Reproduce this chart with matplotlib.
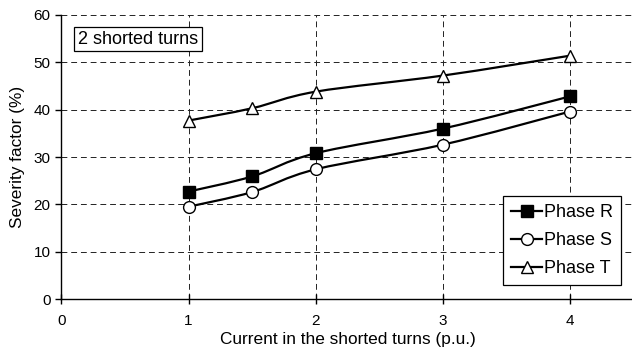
import matplotlib
matplotlib.use("Agg")
import matplotlib.pyplot as plt
import numpy as np
from matplotlib.path import Path
from matplotlib.patches import PathPatch
from matplotlib.lines import Line2D

plt.rcParams['font.family'] = ['Liberation Sans', 'DejaVu Sans']

# data
current = [1, 1.5, 2, 3, 4]
phase_r = [22.7, 25.9, 30.8, 36.0, 42.8]
phase_s = [19.5, 22.6, 27.4, 32.6, 39.6]
phase_t = [37.7, 40.3, 43.8, 47.2, 51.4]
series_labels = ["Phase R", "Phase S", "Phase T"]
x_ticks = [0, 1, 2, 3, 4]
y_ticks = [0, 10, 20, 30, 40, 50, 60]


def smooth_path(xs, ys):
    # Excel-style smoothed line: cubic Bezier through the points
    p = np.column_stack([xs, ys]).astype(float)
    n = len(p)
    verts = [p[0]]
    codes = [Path.MOVETO]
    for i in range(n - 1):
        prev = p[i - 1] if i > 0 else p[i]
        nxt = p[i + 2] if i + 2 < n else p[i + 1]
        c1 = p[i] + (p[i + 1] - prev) / 6.0
        c2 = p[i + 1] - (nxt - p[i]) / 6.0
        verts += [c1, c2, p[i + 1]]
        codes += [Path.CURVE4] * 3
    return Path(verts, codes)


fig = plt.figure(figsize=(6.32, 3.47), dpi=100)
ax = fig.add_axes([0.0973, 0.1383, 0.905, 0.8185])

styles = [
    dict(marker='s', mfc='black', mec='black', ms=8.5),
    dict(marker='o', mfc='white', mec='black', ms=8.5),
    dict(marker='^', mfc='white', mec='black', ms=9),
]

handles = []
for ys, lab, st in zip([phase_r, phase_s, phase_t], series_labels, styles):
    ax.add_patch(PathPatch(smooth_path(current, ys), fill=False,
                           edgecolor='black', lw=1.6, zorder=3))
    ax.plot(current, ys, linestyle='none', mew=1.0, zorder=4, **st)
    handles.append(Line2D([], [], color='black', lw=1.6, mew=1.0,
                          label=lab, **st))

ax.set_xlim(0, 4.5)
ax.set_ylim(0, 60)
ax.set_xticks(x_ticks)
ax.set_yticks(y_ticks)

ax.grid(True, color='#222222', linestyle=(0, (6, 4)), linewidth=0.7)
ax.set_axisbelow(True)
for s in ['top', 'right']:
    ax.spines[s].set_visible(False)
for s in ['left', 'bottom']:
    ax.spines[s].set_linewidth(1.0)

ax.tick_params(axis='x', direction='inout', length=7, width=1.0,
               labelsize=11, pad=7)
ax.tick_params(axis='y', direction='out', length=4, width=1.0,
               labelsize=11, pad=4)

ax.set_xlabel("Current in the shorted turns (p.u.)", fontsize=12.4, labelpad=3)
ax.set_ylabel("Severity factor (%)", fontsize=12.4, labelpad=6)

ax.text(0.029, 0.915, "2 shorted turns", transform=ax.transAxes,
        fontsize=13, ha='left', va='center', zorder=5,
        bbox=dict(boxstyle='square,pad=0.2', fc='white', ec='black', lw=0.9))

leg = ax.legend(handles=handles, loc='lower right',
                bbox_to_anchor=(0.978, 0.049), fontsize=13,
                frameon=True, fancybox=False, edgecolor='black',
                framealpha=1, handlelength=1.7, handletextpad=0.1,
                borderpad=0.45, labelspacing=0.6, borderaxespad=0)
leg.get_frame().set_linewidth(0.9)
leg.set_zorder(6)

fig.savefig("out.png", dpi=100)
